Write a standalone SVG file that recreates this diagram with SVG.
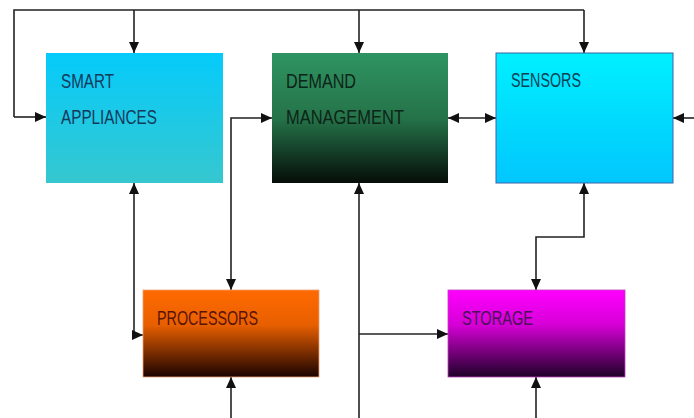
<svg xmlns="http://www.w3.org/2000/svg" width="694" height="418" viewBox="0 0 694 418">
  <defs>
    <linearGradient id="gApp" x1="0" y1="0" x2="0" y2="1">
      <stop offset="0" stop-color="#05cbfb"/>
      <stop offset="1" stop-color="#36c7cf"/>
    </linearGradient>
    <linearGradient id="gDem" x1="0" y1="0" x2="0" y2="1">
      <stop offset="0" stop-color="#2f9462"/>
      <stop offset="0.5" stop-color="#257349"/>
      <stop offset="1" stop-color="#050d08"/>
    </linearGradient>
    <linearGradient id="gSen" x1="0" y1="0" x2="0" y2="1">
      <stop offset="0" stop-color="#00f0ff"/>
      <stop offset="1" stop-color="#02c6fd"/>
    </linearGradient>
    <linearGradient id="gPro" x1="0" y1="0" x2="0" y2="1">
      <stop offset="0" stop-color="#ff6a00"/>
      <stop offset="0.4" stop-color="#e85f00"/>
      <stop offset="1" stop-color="#1a0200"/>
    </linearGradient>
    <linearGradient id="gSto" x1="0" y1="0" x2="0" y2="1">
      <stop offset="0" stop-color="#ff00ff"/>
      <stop offset="0.4" stop-color="#d600d6"/>
      <stop offset="1" stop-color="#1e0028"/>
    </linearGradient>
    <marker id="arr" viewBox="0 0 11 10" refX="11" refY="5" markerWidth="11" markerHeight="10" markerUnits="userSpaceOnUse" orient="auto-start-reverse">
      <path d="M0,0 L11,5 L0,10 Z" fill="#111"/>
    </marker>
  </defs>
  <style>
    .lbl { font-family: "Liberation Sans", Arial, sans-serif; font-size: 20px; }
    .wire { fill: none; stroke: #222; stroke-width: 1.6; }
  </style>

  <rect width="694" height="418" fill="#ffffff"/>

  <g id="connectors">
    <!-- bus along the top, feeding three boxes and looping round the left -->
    <path class="wire" d="M14,117 V10 H584"/>
    <path class="wire" d="M14,117 H46" marker-end="url(#arr)"/>
    <path class="wire" d="M134,10 V53" marker-end="url(#arr)"/>
    <path class="wire" d="M359,10 V53" marker-end="url(#arr)"/>
    <path class="wire" d="M584,10 V53" marker-end="url(#arr)"/>
    <!-- input from the right into sensors -->
    <path class="wire" d="M694,118 H673" marker-end="url(#arr)"/>
    <!-- demand management <-> sensors -->
    <path class="wire" d="M448,118 H496" marker-start="url(#arr)" marker-end="url(#arr)"/>
    <!-- processors <-> demand management -->
    <path class="wire" d="M231,290 V118 H272" marker-start="url(#arr)" marker-end="url(#arr)"/>
    <!-- smart appliances <-> processors -->
    <path class="wire" d="M134,183 V335 H143" marker-start="url(#arr)" marker-end="url(#arr)"/>
    <!-- feed up into processors -->
    <path class="wire" d="M231,418 V377" marker-end="url(#arr)"/>
    <!-- trunk up into demand management, branching to storage -->
    <path class="wire" d="M359,418 V183" marker-end="url(#arr)"/>
    <path class="wire" d="M359,334 H448" marker-end="url(#arr)"/>
    <!-- sensors <-> storage -->
    <path class="wire" d="M584,183 V237 H536 V290" marker-start="url(#arr)" marker-end="url(#arr)"/>
    <!-- feed up into storage -->
    <path class="wire" d="M536,418 V377" marker-end="url(#arr)"/>
  </g>

  <g id="smart-appliances">
    <rect x="46" y="53" width="177" height="130" fill="url(#gApp)"/>
    <text class="lbl" fill="#143a5c" x="61" y="88" textLength="53" lengthAdjust="spacingAndGlyphs">SMART</text>
    <text class="lbl" fill="#143a5c" x="61" y="124" textLength="96" lengthAdjust="spacingAndGlyphs">APPLIANCES</text>
  </g>

  <g id="demand-management">
    <rect x="272" y="53" width="176" height="130" fill="url(#gDem)"/>
    <text class="lbl" fill="#0d2418" x="286" y="88" textLength="70" lengthAdjust="spacingAndGlyphs">DEMAND</text>
    <text class="lbl" fill="#0d2418" x="286" y="124" textLength="118" lengthAdjust="spacingAndGlyphs">MANAGEMENT</text>
  </g>

  <g id="sensors">
    <rect x="496" y="53" width="177" height="130" fill="url(#gSen)" stroke="#3d62a8" stroke-width="1"/>
    <text class="lbl" fill="#0b4258" x="511" y="87" textLength="70" lengthAdjust="spacingAndGlyphs">SENSORS</text>
  </g>

  <g id="processors">
    <rect x="143" y="290" width="176" height="87" fill="url(#gPro)" stroke="#f0a070" stroke-width="0.8"/>
    <text class="lbl" fill="#5a1408" x="157" y="325" textLength="101" lengthAdjust="spacingAndGlyphs">PROCESSORS</text>
  </g>

  <g id="storage">
    <rect x="448" y="290" width="177" height="87" fill="url(#gSto)" stroke="#c040c0" stroke-width="0.8"/>
    <text class="lbl" fill="#4a1458" x="462" y="325" textLength="71" lengthAdjust="spacingAndGlyphs">STORAGE</text>
  </g>
</svg>
